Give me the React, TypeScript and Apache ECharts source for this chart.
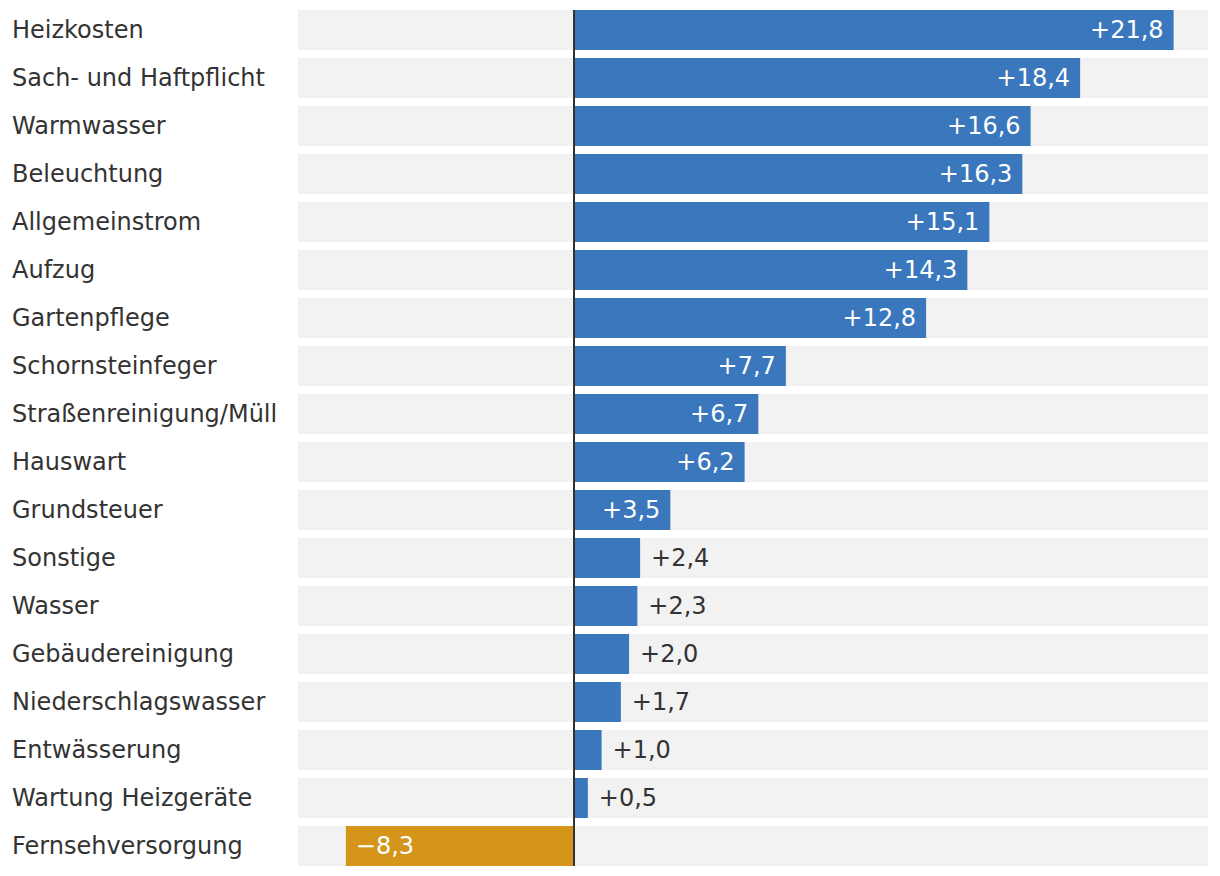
import React, { useEffect, useRef } from "react";
import * as echarts from "echarts";

const categories: string[] = [
  "Heizkosten",
  "Sach- und Haftpflicht",
  "Warmwasser",
  "Beleuchtung",
  "Allgemeinstrom",
  "Aufzug",
  "Gartenpflege",
  "Schornsteinfeger",
  "Straßenreinigung/Müll",
  "Hauswart",
  "Grundsteuer",
  "Sonstige",
  "Wasser",
  "Gebäudereinigung",
  "Niederschlagswasser",
  "Entwässerung",
  "Wartung Heizgeräte",
  "Fernsehversorgung",
];

const values: number[] = [
  21.8, 18.4, 16.6, 16.3, 15.1, 14.3, 12.8, 7.7, 6.7, 6.2, 3.5, 2.4, 2.3, 2.0,
  1.7, 1.0, 0.5, -8.3,
];

const axisMin = -10.04;
const axisMax = 23.05;

const BLUE = "#3a77bc";
const ORANGE = "#d4951a";
const FONT = "'DejaVu Sans', Verdana, sans-serif";

function fmt(v: number): string {
  const s = Math.abs(v).toFixed(1).replace(".", ",");
  return (v < 0 ? "\u2212" : "+") + s;
}

export default function App() {
  const ref = useRef<HTMLDivElement>(null);
  useEffect(() => {
    document.body.style.margin = "0";
    if (!ref.current) return;
    const chart = echarts.init(ref.current, null, { renderer: "svg" });
    const data = values.map((v) => {
      const inside = Math.abs(v) >= 3;
      return {
        value: v,
        itemStyle: { color: v < 0 ? ORANGE : BLUE },
        label: {
          show: true,
          position: v < 0 ? "insideLeft" : inside ? "insideRight" : "right",
          distance: inside ? 10 : 11,
          color: inside ? "#ffffff" : "#333333",
          fontSize: 24,
          fontFamily: FONT,
          formatter: () => fmt(v),
        },
      };
    });
    chart.setOption({
      animation: false,
      grid: { left: 298, right: 12, top: 6, height: 864 },
      xAxis: {
        type: "value",
        min: axisMin,
        max: axisMax,
        show: false,
      },
      yAxis: {
        type: "category",
        data: categories,
        inverse: true,
        axisLine: { show: false },
        axisTick: { show: false },
        splitLine: { show: false },
        axisLabel: {
          align: "left",
          margin: 286,
          fontSize: 24,
          fontFamily: FONT,
          color: "#333333",
        },
      },
      series: [
        {
          type: "bar",
          data,
          barCategoryGap: "16.67%",
          showBackground: true,
          backgroundStyle: { color: "#f2f2f2" },
        },
      ],
    });
    const top = chart.convertToPixel({ xAxisIndex: 0, yAxisIndex: 0 }, [0, 0]);
    const bottom = chart.convertToPixel({ xAxisIndex: 0, yAxisIndex: 0 }, [
      0,
      categories.length - 1,
    ]);
    if (top && bottom) {
      const x = Math.round(top[0]);
      chart.setOption({
        graphic: [
          {
            type: "line",
            shape: { x1: x, y1: top[1] - 20, x2: x, y2: bottom[1] + 20 },
            style: { stroke: "#333333", lineWidth: 2 },
            z: 100,
          },
        ],
      });
    }
    return () => chart.dispose();
  }, []);
  return <div ref={ref} style={{ width: 1220, height: 876 }} />;
}
